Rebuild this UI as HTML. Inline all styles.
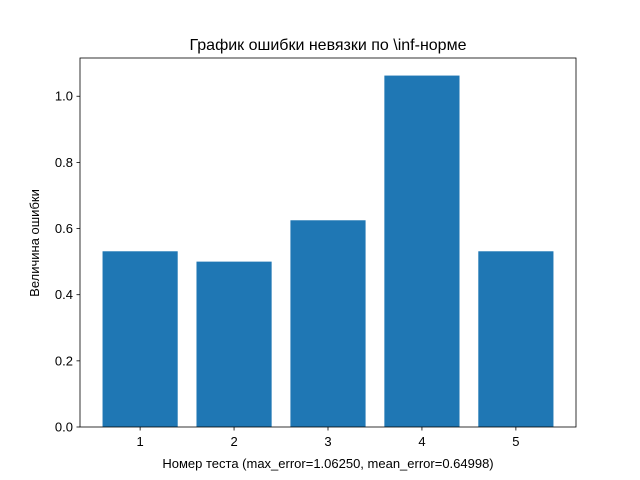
<!DOCTYPE html>
<html><head><meta charset="utf-8"><style>body{margin:0;background:#fff}svg{display:block;font-family:"Liberation Sans","DejaVu Sans",sans-serif}</style></head>
<body>
<svg id="chart" width="640" height="480">
<rect width="640" height="480" fill="#fff"/>
<text x="328" y="50" text-anchor="middle" font-size="16">График ошибки невязки по \inf-норме</text>
<g id="bars"></g><g id="axes"></g>
<text x="328" y="468" text-anchor="middle" font-size="13">Номер теста (max_error=1.06250, mean_error=0.64998)</text>
<text transform="translate(39,243) rotate(-90)" text-anchor="middle" font-size="13">Величина ошибки</text>
</svg>
<script>
const categories = [1, 2, 3, 4, 5];
const values = [0.53125, 0.5, 0.625, 1.0625, 0.53125];
const yTicks = [0.0, 0.2, 0.4, 0.6, 0.8, 1.0];
const ns = "http://www.w3.org/2000/svg";
const L = 80, R = 576, T = 58, B = 427;
const xMin = 0.36, xMax = 5.64, yMax = Math.max(...values) * 1.05;
const xs = v => L + (v - xMin) / (xMax - xMin) * (R - L);
const ys = v => B - v / yMax * (B - T);
function mk(tag, attrs, parent) { const e = document.createElementNS(ns, tag); for (const k in attrs) e.setAttribute(k, attrs[k]); parent.appendChild(e); return e; }
const bars = document.getElementById('bars'), axes = document.getElementById('axes');
categories.forEach((c, i) => {
  const r = mk('rect', {x: xs(c - 0.4), y: ys(values[i]), width: xs(c + 0.4) - xs(c - 0.4), height: B - ys(values[i]), fill: '#1f77b4'}, bars);
  
  
  const t = mk('line', {x1: xs(c), x2: xs(c), y1: B, y2: B + 3.5, stroke: '#000', 'stroke-width': 0.8}, axes);
  
  
  const l = mk('text', {x: xs(c), y: B + 19, 'text-anchor': 'middle', 'font-size': 13}, axes);
  l.textContent = c;
  
  
});
yTicks.forEach(v => {
  const t = mk('line', {x1: L - 3.5, x2: L, y1: ys(v), y2: ys(v), stroke: '#000', 'stroke-width': 0.8}, axes);
  
  
  const l = mk('text', {x: L - 7, y: ys(v) + 4.5, 'text-anchor': 'end', 'font-size': 13}, axes);
  l.textContent = v.toFixed(1);
  
  
});
const f = mk('rect', {x: L, y: T, width: R - L, height: B - T, fill: 'none', stroke: '#000', 'stroke-width': 0.8}, axes);


</script>
</body></html>
